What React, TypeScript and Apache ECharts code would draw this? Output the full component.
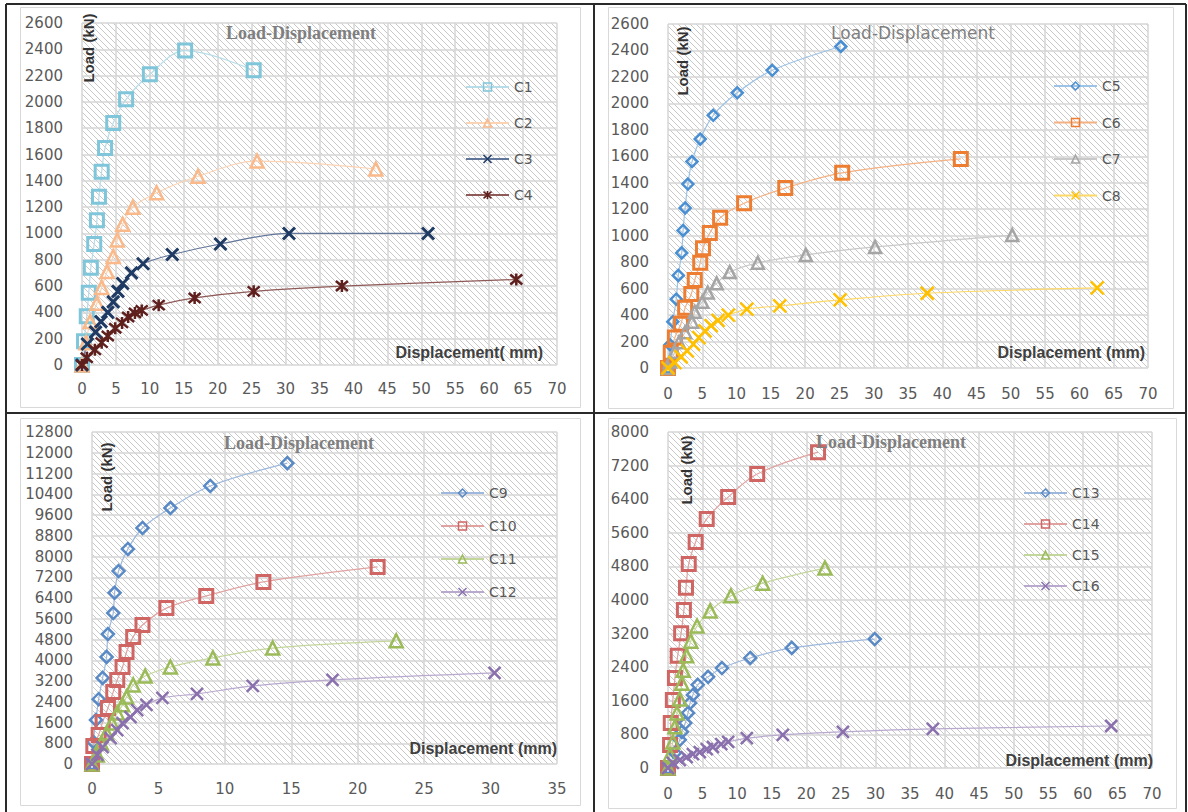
import React, { useEffect, useRef } from 'react';
import * as echarts from 'echarts';

type Pt = [number, number];

// ---- Panel 1 (C1–C4) ----
const C1: Pt[] = [[0, 0], [0.3, 180], [0.7, 370], [1.0, 550], [1.3, 740], [1.8, 920], [2.2, 1100], [2.5, 1280], [2.9, 1470], [3.4, 1650], [4.6, 1840], [6.5, 2020], [10, 2210], [15.2, 2390], [25.3, 2240]];
const C2: Pt[] = [[0, 0], [0.6, 170], [1.2, 330], [2.2, 470], [2.9, 590], [3.7, 710], [4.6, 825], [5.2, 950], [6.0, 1070], [7.5, 1200], [11.0, 1310], [17.1, 1435], [25.8, 1550], [43.3, 1490]];
const C3: Pt[] = [[0, 0], [0.8, 160], [2.0, 250], [2.8, 330], [3.8, 400], [4.6, 480], [5.3, 560], [6.0, 620], [7.3, 700], [9.0, 770], [13.3, 840], [20.4, 920], [30.5, 1000], [51, 1000]];
const C4: Pt[] = [[0, 0], [0.7, 55], [1.9, 115], [2.9, 170], [3.8, 220], [4.9, 280], [5.9, 320], [6.8, 365], [7.8, 395], [8.8, 415], [11.3, 455], [16.6, 510], [25.3, 560], [38.3, 600], [64, 650]];

// ---- Panel 2 (C5–C8) ----
const C5: Pt[] = [[0, 0], [0.3, 175], [0.7, 350], [1.2, 520], [1.5, 700], [2.0, 870], [2.2, 1040], [2.5, 1210], [2.9, 1390], [3.5, 1560], [4.7, 1730], [6.6, 1910], [10.1, 2080], [15.2, 2250], [25.2, 2430]];
const C6: Pt[] = [[0, 0], [0.4, 115], [1.0, 230], [1.9, 335], [2.5, 455], [3.4, 560], [3.9, 665], [4.7, 795], [5.1, 905], [6.1, 1020], [7.6, 1135], [11.1, 1245], [17.1, 1360], [25.4, 1475], [42.7, 1580]];
const C7: Pt[] = [[0, 0], [0.3, 50], [1.0, 120], [1.6, 195], [2.5, 270], [3.5, 350], [3.9, 425], [5.0, 500], [5.8, 570], [7.1, 640], [9.0, 725], [13.1, 795], [20.1, 855], [30.2, 915], [50.2, 1005]];
const C8: Pt[] = [[0, 0], [1.0, 40], [1.9, 85], [2.8, 130], [3.7, 180], [4.5, 230], [5.4, 280], [6.3, 320], [7.3, 360], [8.8, 400], [11.5, 445], [16.3, 470], [25.1, 515], [37.8, 565], [62.6, 605]];

// ---- Panel 3 (C9–C12) ----
const C9: Pt[] = [[0, 0], [0.1, 850], [0.3, 1700], [0.5, 2500], [0.8, 3320], [1.1, 4130], [1.2, 5010], [1.6, 5820], [1.7, 6600], [2.0, 7440], [2.7, 8290], [3.8, 9100], [5.9, 9870], [8.9, 10720], [14.7, 11600]];
const C10: Pt[] = [[0, 0], [0.1, 690], [0.5, 1120], [0.8, 1620], [1.2, 2160], [1.6, 2780], [1.9, 3240], [2.3, 3740], [2.6, 4320], [3.1, 4900], [3.8, 5360], [5.6, 6010], [8.6, 6480], [12.9, 7020], [21.5, 7600]];
const C11: Pt[] = [[0, 0], [0.4, 350], [0.7, 810], [1.1, 1200], [1.5, 1580], [1.9, 1970], [2.3, 2280], [2.6, 2580], [3.1, 3050], [4.0, 3390], [5.9, 3740], [9.1, 4090], [13.6, 4470], [22.9, 4750]];
const C12: Pt[] = [[0, 0], [0.4, 350], [0.8, 650], [1.4, 1000], [1.9, 1310], [2.3, 1580], [2.9, 1810], [3.4, 2080], [4.1, 2280], [5.3, 2550], [7.9, 2700], [12.1, 3010], [18.1, 3240], [30.3, 3510]];

// ---- Panel 4 (C13–C16) ----
const C13: Pt[] = [[0, 0], [1.0, 360], [1.7, 670], [2.0, 860], [2.5, 1070], [2.9, 1310], [3.2, 1550], [3.6, 1740], [4.3, 1980], [5.8, 2170], [7.8, 2380], [11.9, 2620], [17.9, 2860], [29.9, 3070]];
const C14: Pt[] = [[0, 0], [0.3, 550], [0.4, 1070], [0.7, 1620], [1.0, 2140], [1.4, 2670], [1.9, 3210], [2.3, 3760], [2.6, 4290], [3.0, 4860], [4.0, 5380], [5.6, 5930], [8.7, 6450], [12.9, 7000], [21.7, 7520]];
const C15: Pt[] = [[0, 0], [0.3, 310], [0.7, 620], [1.0, 980], [1.3, 1310], [1.7, 1640], [2.0, 2020], [2.2, 2330], [2.7, 2670], [3.3, 3020], [4.2, 3380], [6.1, 3740], [9.1, 4100], [13.7, 4400], [22.7, 4760]];
const C16: Pt[] = [[0, 0], [0.7, 120], [1.7, 190], [2.7, 260], [3.6, 330], [4.6, 380], [5.6, 450], [6.5, 500], [7.7, 570], [8.7, 620], [11.4, 710], [16.6, 790], [25.3, 860], [38.3, 930], [64.1, 1000]];

// axis ranges per panel
const X_MAX = [70, 70, 35, 70];
const X_STEP = [5, 5, 5, 5];
const Y_MAX = [2600, 2600, 12800, 8000];
const Y_STEP = [200, 200, 800, 800];

const TITLE = 'Load-Displacement';
const Y_NAME = 'Load (kN)';
const X_NAMES = ['Displacement( mm)', 'Displacement (mm)', 'Displacement (mm)', 'Displacement (mm)'];

const X_PATH = 'path://M0,0L10,10M10,0L0,10';
const STAR_PATH = 'path://M0,1L10,11M10,1L0,11M5,0L5,12';

type SDef = { name: string; data: Pt[]; p: number; symbol: string; size: number; color: string; line: string; bw: number };

const SERIES: SDef[] = [
  { name: 'C1', data: C1, p: 0, symbol: 'rect', size: 13, color: '#7fc6da', line: '#b7dde8', bw: 3 },
  { name: 'C2', data: C2, p: 0, symbol: 'triangle', size: 13, color: '#fab98a', line: '#fcd3b3', bw: 2.5 },
  { name: 'C3', data: C3, p: 0, symbol: X_PATH, size: 12, color: '#1f3b63', line: '#62769a', bw: 3 },
  { name: 'C4', data: C4, p: 0, symbol: STAR_PATH, size: 12, color: '#5e1f1d', line: '#8e5a58', bw: 2.5 },
  { name: 'C5', data: C5, p: 1, symbol: 'diamond', size: 11, color: '#4a8fd2', line: '#9dc3e6', bw: 2.5 },
  { name: 'C6', data: C6, p: 1, symbol: 'rect', size: 13, color: '#ed7d31', line: '#f4b183', bw: 3 },
  { name: 'C7', data: C7, p: 1, symbol: 'triangle', size: 12, color: '#a5a5a5', line: '#c9c9c9', bw: 2.5 },
  { name: 'C8', data: C8, p: 1, symbol: X_PATH, size: 13, color: '#ffc000', line: '#ffd966', bw: 2.5 },
  { name: 'C9', data: C9, p: 2, symbol: 'diamond', size: 12, color: '#5a8ac6', line: '#9db8dc', bw: 2.5 },
  { name: 'C10', data: C10, p: 2, symbol: 'rect', size: 13, color: '#cf6664', line: '#e0a3a2', bw: 3 },
  { name: 'C11', data: C11, p: 2, symbol: 'triangle', size: 13, color: '#9bbb59', line: '#c3d69b', bw: 2.5 },
  { name: 'C12', data: C12, p: 2, symbol: X_PATH, size: 12, color: '#8a70ad', line: '#b9a9cf', bw: 2.5 },
  { name: 'C13', data: C13, p: 3, symbol: 'diamond', size: 12, color: '#5a8ac6', line: '#9db8dc', bw: 2.5 },
  { name: 'C14', data: C14, p: 3, symbol: 'rect', size: 13, color: '#cf6664', line: '#e0a3a2', bw: 3 },
  { name: 'C15', data: C15, p: 3, symbol: 'triangle', size: 13, color: '#9bbb59', line: '#c3d69b', bw: 2.5 },
  { name: 'C16', data: C16, p: 3, symbol: X_PATH, size: 12, color: '#8a70ad', line: '#b9a9cf', bw: 2.5 },
];

// layout
const GRIDS = [
  { left: 82, top: 23, width: 475, height: 342 },
  { left: 668, top: 24, width: 480, height: 344 },
  { left: 92, top: 432, width: 465, height: 332 },
  { left: 668, top: 432, width: 484, height: 336 },
];
const BORDERS = [
  { x: 20, y: 7, width: 560, height: 400 },
  { x: 608, y: 7, width: 565, height: 401 },
  { x: 20, y: 418, width: 560, height: 387 },
  { x: 608, y: 418, width: 568, height: 390 },
];
const TITLE_POS = [[301, 33], [913, 33], [299, 443], [891, 442]];
const TITLE_SERIF = [true, false, true, true];
const YNAME_POS = [[88, 48], [682, 61], [106, 477], [686, 470]];
const XNAME_POS = [[543, 352], [1145, 352], [557, 748], [1153, 760]];
const LEGEND_POS = [
  { left: 465, top: 80, gap: 22 },
  { left: 1053, top: 79, gap: 22.5 },
  { left: 440, top: 486, gap: 19 },
  { left: 1023, top: 486, gap: 17 },
];
const X_LABEL_MARGIN = [16, 18, 17, 18];

function hatch() {
  const c = document.createElement('canvas');
  c.width = 6;
  c.height = 6;
  const ctx = c.getContext('2d')!;
  ctx.fillStyle = '#ffffff';
  ctx.fillRect(0, 0, 6, 6);
  ctx.strokeStyle = '#c8c8c8';
  ctx.lineWidth = 1;
  ctx.beginPath();
  ctx.moveTo(-1, -1);
  ctx.lineTo(7, 7);
  ctx.moveTo(-1, 5);
  ctx.lineTo(1, 7);
  ctx.moveTo(5, -1);
  ctx.lineTo(7, 1);
  ctx.stroke();
  return { image: c.toDataURL(), repeat: 'repeat', imageWidth: 6, imageHeight: 6 };
}

export default function App() {
  const ref = useRef<HTMLDivElement>(null);
  useEffect(() => {
    if (!ref.current) return;
    const chart = echarts.init(ref.current, null, { renderer: 'svg' });
    const pattern = hatch();
    const labelFont = 'DejaVu Sans';
    const plain = (v: number) => String(v);

    const grids = GRIDS.map((g) => ({
      ...g,
      show: true,
      backgroundColor: pattern as any,
      borderWidth: 0,
      containLabel: false,
    }));
    const xAxes = X_MAX.map((mx, i) => ({
      type: 'value',
      gridIndex: i,
      min: 0,
      max: mx,
      interval: X_STEP[i],
      axisLine: { show: false },
      axisTick: { show: false },
      splitLine: { show: true, lineStyle: { color: '#d6d6d6', width: 1.5 } },
      axisLabel: { color: '#595959', fontFamily: labelFont, fontSize: 15, margin: X_LABEL_MARGIN[i], formatter: plain },
    }));
    const yAxes = Y_MAX.map((mx, i) => ({
      type: 'value',
      gridIndex: i,
      min: 0,
      max: mx,
      interval: Y_STEP[i],
      axisLine: { show: false },
      axisTick: { show: false },
      splitLine: { show: true, lineStyle: { color: '#d6d6d6', width: 1.5 } },
      axisLabel: { color: '#595959', fontFamily: labelFont, fontSize: 15, margin: 19, formatter: plain },
    }));

    const series = SERIES.map((s) => ({
      type: 'line',
      name: s.name,
      data: s.data,
      xAxisIndex: s.p,
      yAxisIndex: s.p,
      symbol: s.symbol,
      symbolSize: s.size,
      smooth: 0.35,
      clip: false,
      itemStyle: { color: 'transparent', borderColor: s.color, borderWidth: s.bw },
      lineStyle: { color: s.line, width: 1.2 },
      emphasis: { disabled: true },
    }));

    const legends = LEGEND_POS.map((l, i) => ({
      orient: 'vertical',
      left: l.left,
      top: l.top,
      padding: 0,
      itemGap: l.gap,
      itemWidth: 43,
      itemHeight: 10,
      selectedMode: false,
      data: SERIES.filter((s) => s.p === i).map((s) => s.name),
      itemStyle: { borderWidth: 1.5 },
      textStyle: { color: '#595959', fontFamily: labelFont, fontSize: 14, padding: [0, 0, 0, 0] },
    }));

    const graphics: any[] = [];
    BORDERS.forEach((b) => {
      graphics.push({
        type: 'rect',
        shape: { x: b.x + 0.5, y: b.y + 0.5, width: b.width, height: b.height },
        style: { fill: 'none', stroke: '#d9d9d9', lineWidth: 1 },
        z: 0,
        silent: true,
      });
    });
    const frame = [
      [6, 4, 1186, 4],
      [6, 4, 6, 812],
      [1186, 4, 1186, 812],
      [594, 4, 594, 812],
      [6, 413, 1186, 413],
    ];
    frame.forEach((f) => {
      graphics.push({
        type: 'line',
        shape: { x1: f[0], y1: f[1], x2: f[2], y2: f[3] },
        style: { stroke: '#2a2a2a', lineWidth: 2 },
        silent: true,
      });
    });
    for (let i = 0; i < 4; i++) {
      graphics.push({
        type: 'text',
        x: TITLE_POS[i][0],
        y: TITLE_POS[i][1],
        z: 20,
        style: {
          text: TITLE,
          fill: '#7f7f7f',
          font: TITLE_SERIF[i] ? 'bold 18px "Liberation Serif"' : '17px "DejaVu Sans"',
          textAlign: 'center',
          textVerticalAlign: 'middle',
        },
      });
      graphics.push({
        type: 'text',
        x: YNAME_POS[i][0],
        y: YNAME_POS[i][1],
        rotation: Math.PI / 2,
        z: 20,
        style: {
          text: Y_NAME,
          fill: '#333333',
          font: 'bold 15px "Liberation Sans"',
          textAlign: 'center',
          textVerticalAlign: 'middle',
        },
      });
      graphics.push({
        type: 'text',
        x: XNAME_POS[i][0],
        y: XNAME_POS[i][1],
        z: 20,
        style: {
          text: X_NAMES[i],
          fill: '#404040',
          font: 'bold 16px "Liberation Sans"',
          textAlign: 'right',
          textVerticalAlign: 'middle',
        },
      });
    }

    chart.setOption({
      animation: false,
      backgroundColor: '#ffffff',
      grid: grids,
      xAxis: xAxes,
      yAxis: yAxes,
      legend: legends,
      series,
      graphic: { elements: graphics },
    } as any);
    return () => chart.dispose();
  }, []);
  return <div ref={ref} style={{ position: 'fixed', left: 0, top: 0, width: 1188, height: 812 }} />;
}
